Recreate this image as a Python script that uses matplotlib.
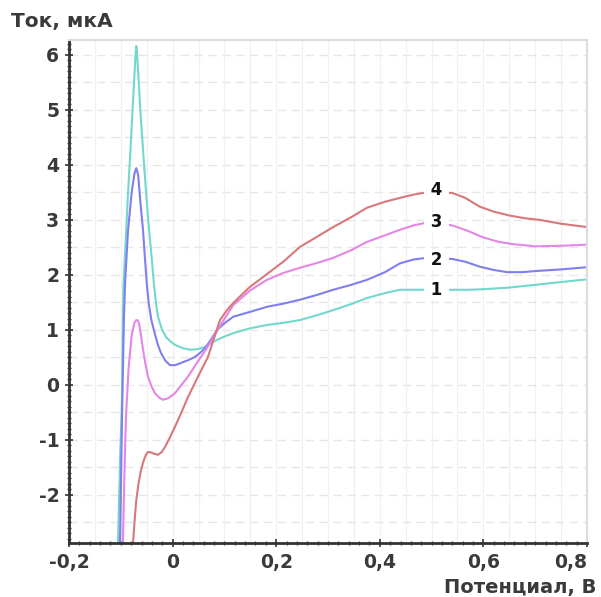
import matplotlib
matplotlib.use("Agg")
import matplotlib.pyplot as plt
import numpy as np
from matplotlib.ticker import MultipleLocator

# Curve 1 (turquoise)
x1 = [-0.1054, -0.1010, -0.0977, -0.0962, -0.0950, -0.0910, -0.0867, -0.0815, -0.0763,
      -0.0730, -0.0710, -0.0701, -0.0690, -0.0660, -0.0620, -0.0539, -0.0480, -0.0417,
      -0.0380, -0.0359, -0.0320, -0.0282, -0.0210, -0.0127, -0.0040, 0.0046, 0.0190,
      0.0336, 0.0480, 0.0625, 0.0740, 0.086, 0.100, 0.120, 0.150, 0.182, 0.215,
      0.246, 0.280, 0.310, 0.345, 0.375, 0.410, 0.439, 0.465, 0.490, 0.540, 0.570,
      0.600, 0.650, 0.700, 0.750, 0.800]
y1 = [-2.87, -1.20, -0.27, 1.00, 1.78, 2.55, 3.36, 4.25, 5.18,
      5.75, 6.08, 6.16, 6.08, 5.60, 4.95, 3.85, 3.10, 2.45,
      2.05, 1.82, 1.48, 1.24, 1.02, 0.87, 0.79, 0.73, 0.67,
      0.64, 0.65, 0.69, 0.76, 0.82, 0.88, 0.95, 1.03, 1.09, 1.13,
      1.18, 1.27, 1.36, 1.47, 1.58, 1.67, 1.73, 1.73, 1.73, 1.73, 1.73,
      1.74, 1.77, 1.82, 1.87, 1.92]

# Curve 2 (blue)
x2 = [-0.1015, -0.0995, -0.0975, -0.0940, -0.0915, -0.0861, -0.0790, -0.0735, -0.0701,
      -0.0665, -0.0620, -0.0571, -0.0530, -0.0495, -0.0460, -0.0410, -0.0340, -0.0280,
      -0.0224, -0.0140, -0.0050, 0.0050, 0.0162, 0.0300, 0.0432, 0.0540, 0.0645, 0.075,
      0.086, 0.100, 0.117, 0.150, 0.182, 0.215, 0.246, 0.280, 0.310, 0.345, 0.375,
      0.410, 0.439, 0.465, 0.490, 0.540, 0.565, 0.593, 0.620, 0.646, 0.675, 0.700,
      0.750, 0.800]
y2 = [-2.87, -1.70, -0.50, 1.20, 1.90, 2.80, 3.50, 3.85, 3.94,
      3.82, 3.30, 2.82, 2.25, 1.80, 1.48, 1.18, 0.92, 0.72,
      0.58, 0.44, 0.36, 0.36, 0.40, 0.45, 0.51, 0.59, 0.69, 0.84,
      1.00, 1.12, 1.24, 1.33, 1.42, 1.48, 1.55, 1.64, 1.73, 1.82, 1.91,
      2.05, 2.21, 2.28, 2.31, 2.29, 2.24, 2.15, 2.09, 2.05, 2.05, 2.07,
      2.10, 2.14]

# Curve 3 (pink)
x3 = [-0.0960, -0.0930, -0.0900, -0.0850, -0.0790, -0.0740, -0.0700, -0.0668, -0.0640,
      -0.0610, -0.0571, -0.0520, -0.0475, -0.0410, -0.0340, -0.0260, -0.0185, -0.0080,
      0.0046, 0.0170, 0.0297, 0.0420, 0.0548, 0.0640, 0.072, 0.090, 0.117,
      0.150, 0.182, 0.215, 0.246, 0.280, 0.310, 0.345, 0.375, 0.410, 0.439, 0.465,
      0.490, 0.540, 0.570, 0.600, 0.630, 0.657, 0.700, 0.750, 0.800]
y3 = [-2.87, -1.60, -0.58, 0.30, 0.90, 1.12, 1.18, 1.17, 1.08,
      0.90, 0.64, 0.36, 0.15, -0.02, -0.15, -0.23, -0.27, -0.24,
      -0.15, 0.00, 0.15, 0.33, 0.51, 0.64, 0.76, 1.05, 1.45,
      1.72, 1.91, 2.04, 2.13, 2.22, 2.31, 2.45, 2.60, 2.72, 2.82, 2.90,
      2.95, 2.90, 2.80, 2.68, 2.60, 2.56, 2.52, 2.53, 2.55]

# Curve 4 (red)
x4 = [-0.0764, -0.0740, -0.0707, -0.0660, -0.0610, -0.0560, -0.0514, -0.0475, -0.0436,
      -0.0360, -0.0282, -0.0210, -0.0147, -0.0050, 0.0046, 0.0170, 0.0297, 0.0490,
      0.0683, 0.0800, 0.0915, 0.105, 0.117, 0.149, 0.180, 0.215, 0.246, 0.280, 0.310,
      0.345, 0.375, 0.410, 0.439, 0.465, 0.490, 0.540, 0.565, 0.593, 0.620, 0.650,
      0.680, 0.709, 0.750, 0.800]
y4 = [-2.87, -2.55, -2.15, -1.80, -1.55, -1.38, -1.27, -1.22, -1.22,
      -1.25, -1.27, -1.22, -1.13, -0.95, -0.76, -0.50, -0.22, 0.15,
      0.51, 0.85, 1.18, 1.36, 1.49, 1.78, 2.00, 2.25, 2.51, 2.70, 2.87,
      3.05, 3.22, 3.33, 3.40, 3.46, 3.50, 3.49, 3.40, 3.24, 3.15, 3.08,
      3.03, 3.00, 2.93, 2.87]

curve_labels = ["1", "2", "3", "4"]
label_x = [0.51, 0.51, 0.51, 0.51]
label_y = [1.73, 2.27, 2.96, 3.54]

colors = ["#72d8cc", "#7f7ff0", "#e386e6", "#d8787a"]

xticks = [-0.2, 0, 0.2, 0.4, 0.6, 0.8]
xtick_labels = ["-0,2", "0", "0,2", "0,4", "0,6", "0,8"]
yticks = [-2, -1, 0, 1, 2, 3, 4, 5, 6]
ytick_labels = ["-2", "-1", "0", "1", "2", "3", "4", "5", "6"]

fig = plt.figure(figsize=(6.01, 5.97), dpi=100)
ax = fig.add_axes([69/601, 1-543/597, (587-69)/601, (543-40)/597])

ax.set_xlim(-0.2, 0.8)
ax.set_ylim(-2.873, 6.27)

# grid
for gx in np.arange(-0.2, 0.8001, 0.05):
    ax.axvline(gx, color="#f1f1f1", lw=0.9, zorder=0)
for gy in np.arange(-2.5, 6.01, 0.5):
    ax.axhline(gy, color="#e6e6e6", lw=1.0, ls=(0, (6, 4)), zorder=0)

for xs, ys, c in zip([x1, x2, x3, x4], [y1, y2, y3, y4], colors):
    ax.plot(xs, ys, color=c, lw=1.5, zorder=2, solid_capstyle="round",
            solid_joinstyle="round")

for t, lx, ly in zip(curve_labels, label_x, label_y):
    ax.text(lx, ly, " " + t + " ", ha="center", va="center", fontsize=12,
            fontweight="bold", color="#111111", zorder=3,
            bbox=dict(boxstyle="square,pad=0.05", fc="white", ec="none"))

ax.set_xticks(xticks)
ax.set_xticklabels(xtick_labels)
ax.set_yticks(yticks)
ax.set_yticklabels(ytick_labels)
ax.xaxis.set_minor_locator(MultipleLocator(0.02))
ax.yaxis.set_minor_locator(MultipleLocator(0.1))
ax.tick_params(axis="both", which="major", labelsize=13.5, colors="#333333",
               labelcolor="#3a3a3a", direction="inout", length=6, width=1.2, pad=4)
ax.tick_params(axis="both", which="minor", colors="#444444",
               direction="inout", length=3, width=1.0)
for lab in ax.get_xticklabels() + ax.get_yticklabels():
    lab.set_fontweight("bold")
ax.get_xticklabels()[-1].set_horizontalalignment("right")

for s in ["left", "bottom"]:
    ax.spines[s].set_color("#333333")
    ax.spines[s].set_linewidth(2.0)
for s in ["top", "right"]:
    ax.spines[s].set_color("#dcdcdc")
    ax.spines[s].set_linewidth(1.5)

fig.text(11/601, 1-21/597, "Ток, мкА", ha="left", va="center", fontsize=14.5,
         fontweight="bold", color="#3a3a3a")
fig.text(596/601, 1-587/597, "Потенциал, В", ha="right", va="center", fontsize=14,
         fontweight="bold", color="#3a3a3a")

fig.savefig("out.png", dpi=100, facecolor="white")
